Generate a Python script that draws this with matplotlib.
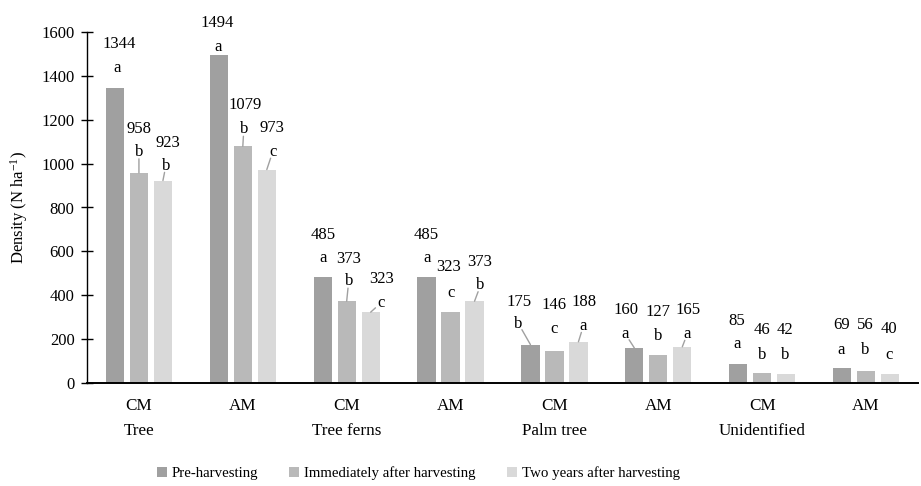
import numpy as np
import matplotlib
matplotlib.use('Agg')
import matplotlib.pyplot as plt

plt.rcParams['font.family'] = ['Liberation Serif', 'DejaVu Serif']
plt.rcParams['mathtext.default'] = 'regular'

# data
sites = ['CM', 'AM', 'CM', 'AM', 'CM', 'AM', 'CM', 'AM']
groups = ['Tree', '', 'Tree ferns', '', 'Palm tree', '', 'Unidentified', '']
series_names = ['Pre-harvesting', 'Immediately after harvesting', 'Two years after harvesting']
pre = [1344, 1494, 485, 485, 175, 160, 85, 69]
immediate = [958, 1079, 373, 323, 146, 127, 46, 56]
two_years = [923, 973, 323, 373, 188, 165, 42, 40]
letters_pre = ['a', 'a', 'a', 'a', 'b', 'a', 'a', 'a']
letters_imm = ['b', 'b', 'b', 'c', 'c', 'b', 'b', 'b']
letters_two = ['b', 'c', 'c', 'b', 'a', 'a', 'b', 'c']

colors = ['#a0a0a0', '#b9b9b9', '#d9d9d9']

# label placement (pixels from bar top): letter dx, letter dy, value dx, value dy, leader line
label_pos = [
    [(2, 20, 4, 44, 0), (0, 21, 0, 44, 1), (3, 15, 5, 38, 1)],
    [(-1, 8, -2, 32, 0), (1, 17, 2, 41, 1), (6, 18, 5, 42, 1)],
    [(0, 19, 0, 42, 0), (2, 20, 2, 42, 1), (10, 9, 11, 33, 1)],
    [(0, 19, 0, 42, 0), (0, 19, -2, 45, 0), (6, 16, 5, 39, 1)],
    [(-12, 21, -11, 43, 1), (0, 22, 0, 46, 0), (5, 16, 6, 40, 1)],
    [(-9, 14, -8, 38, 1), (0, 19, 0, 43, 0), (5, 13, 6, 37, 1)],
    [(-1, 20, -1, 43, 0), (0, 18, 0, 43, 0), (-1, 19, -1, 44, 0)],
    [(-1, 18, -1, 43, 0), (-1, 21, -1, 46, 0), (-1, 19, -1, 45, 0)],
]

fig = plt.figure(figsize=(9.21, 4.86), dpi=100)
ax = fig.add_axes([87 / 921, 103 / 486, 831 / 921, 351 / 486])

x = np.arange(len(sites))
step = 0.231
width = 0.175
all_vals = [pre, immediate, two_years]
all_letters = [letters_pre, letters_imm, letters_two]
for s in range(3):
    xs = x + (s - 1) * step
    ax.bar(xs, all_vals[s], width=width, color=colors[s], label=series_names[s])
    for i in range(len(sites)):
        v = all_vals[s][i]
        ldx, ldy, vdx, vdy, lead = label_pos[i][s]
        if lead:
            # leader line from bar top to just below the letter
            d = np.hypot(ldx, ldy)
            ex, ey = ldx - 7 * ldx / d, ldy - 7 * ldy / d
            ax.annotate('', xy=(xs[i], v), xytext=(ex, ey), textcoords='offset pixels',
                        arrowprops=dict(arrowstyle='-', color='#a0a0a0', lw=1,
                                        shrinkA=0, shrinkB=0))
        ax.annotate(all_letters[s][i], xy=(xs[i], v), xytext=(ldx, ldy),
                    textcoords='offset pixels', ha='center', va='center', fontsize=12)
        ax.annotate(str(v), xy=(xs[i], v), xytext=(vdx, vdy),
                    textcoords='offset pixels', ha='center', va='center', fontsize=12)

ax.set_xlim(-0.5, 7.5)
ax.set_ylim(0, 1600)
ax.set_yticks(range(0, 1601, 200))
ax.set_xticks(x)
ax.set_xticklabels([s + ('\n' + g if g else '') for s, g in zip(sites, groups)],
                   fontsize=12.3, linespacing=1.7, va='top')
ax.tick_params(axis='x', length=0, pad=11)
ax.tick_params(axis='y', length=8, width=1, direction='inout', labelsize=12, pad=5)
for sp in ['top', 'right']:
    ax.spines[sp].set_visible(False)
ax.spines['left'].set_linewidth(1)
ax.spines['bottom'].set_linewidth(1.4)
ax.set_ylabel('Density (N ha$^{-1}$)', fontsize=12, labelpad=8)

ax.legend(loc='center', bbox_to_anchor=((418 - 87) / 831, -0.257), ncol=3, frameon=False,
          fontsize=10.7, handlelength=0.7, handleheight=0.7, handletextpad=0.3,
          columnspacing=2.1)

fig.savefig('out.png', dpi=100)
